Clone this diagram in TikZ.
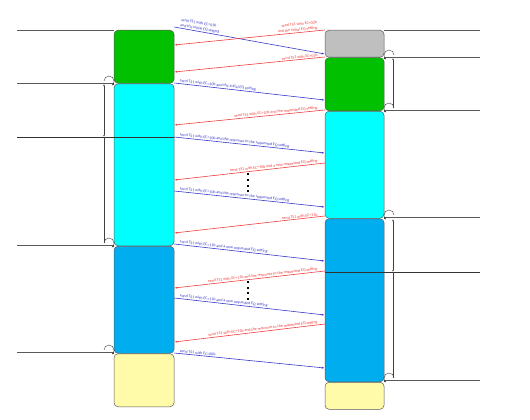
\documentclass[tikz,border=0pt]{standalone}
\usepackage{fontspec}
\setmainfont{Carlito}
\usetikzlibrary{arrows.meta}
\definecolor{eqgray}{HTML}{BFBFBF}
\definecolor{eqgreen}{HTML}{00C000}
\definecolor{eqcyan}{HTML}{00FFFF}
\definecolor{eqblue}{HTML}{00AEEF}
\definecolor{eqyellow}{HTML}{FFFBA8}
\definecolor{msgblue}{HTML}{3838C8}
\definecolor{msgred}{HTML}{F23C3C}

\begin{document}
\begin{tikzpicture}[
        x=1pt, y=-1pt,
        phase/.style={
          draw=black!65,
          rounded corners=4pt,
          inner sep=0pt,
          anchor=north,
          line width=0.5pt
        },
        dspbox/.style={phase, minimum width=60pt},
        uspbox/.style={phase, minimum width=59pt},
        tolr/.style={
          -{Latex[length=3pt,width=2pt]},
          msgblue,
          line width=0.6pt
        },
        torl/.style={
          -{Latex[length=3pt,width=2pt]},
          msgred,
          line width=0.6pt
        },
        lrtxt/.style={
          font=\fontsize{4}{5.4}\selectfont,
          text=msgblue,
          sloped,
          anchor=south west,
          align=left,
          inner sep=0.7pt,
          pos=0.03
        },
        rltxt/.style={
          font=\fontsize{4}{5.4}\selectfont,
          text=msgred,
          sloped,
          anchor=south east,
          align=right,
          inner sep=0.7pt,
          pos=0.04
        },
        level/.style={gray!70!black, line width=0.8pt},
        timer/.style={black!75, line width=0.5pt},
        loopar/.style={
          -{Latex[length=2.5pt,width=2pt]},
          black!75,
          line width=0.4pt
        }
      ]

      \useasboundingbox (0,0) rectangle (530,420);

      % downstream port (left)
      \node[dspbox, fill=eqgreen, minimum height=53pt] (dsp1) at (144,30) {};
      \node[dspbox, fill=eqcyan, minimum height=162pt] (dsp2) at (dsp1.south) {};
      \node[dspbox, fill=eqblue, minimum height=107pt] (dsp3) at (dsp2.south) {};
      \node[dspbox, fill=eqyellow, minimum height=53pt] (dsp0) at (dsp3.south) {};

      % upstream port (right)
      \node[uspbox, fill=eqgray, minimum height=27pt] (usp0) at (354.5,30) {};
      \node[uspbox, fill=eqgreen, minimum height=53pt] (usp1) at (usp0.south) {};
      \node[uspbox, fill=eqcyan, minimum height=107pt] (usp2) at (usp1.south) {};
      \node[uspbox, fill=eqblue, minimum height=163pt] (usp3) at (usp2.south) {};
      \node[uspbox, fill=eqyellow, minimum height=27pt] (uspE) at (usp3.south) {};

      % level lines
      \foreach \y in {30,83,245,352}
        \draw[level] (17,\y) -- (dsp1.west |- 0,\y);
      \draw[level, black!80] (17,137) -- (dsp2.east |- 0,137);
      \foreach \y in {30,57,110,217,380}
        \draw[level] (usp0.east |- 0,\y) -- (480,\y);
      \draw[level, black!80] (usp3.west |- 0,272) -- (480,272);

      % timers
      \draw[timer, {Latex[length=2pt,width=1.6pt]}-{Latex[length=2pt,width=1.6pt]}] (104,84) -- (104,137);
      \draw[timer] (104,137) -- (104,243);
      \draw[timer, {Latex[length=2pt,width=1.6pt]}-] (393,58) -- (393,108);
      \draw[timer, {Latex[length=2pt,width=1.6pt]}-{Latex[length=2pt,width=1.6pt]}] (393,219) -- (393,272);
      \draw[timer] (393,272) -- (393,378);

      % phase changes
      \foreach \y in {83,245,352}
        \draw[loopar] (104,\y-2) arc (180:420:5);
      \foreach \y in {57,110,217,380}
        \draw[loopar] (394,\y-2) arc (0:-240:5);

      % TS1 exchange
      \draw[tolr] (dsp1.east |- 0,27) -- (usp0.west |- 0,54)
        node[lrtxt] {send TS1 with EC=01b\\and the initial EQ setting};
      \draw[torl] (usp0.west |- 0,30) -- (dsp1.east |- 0,45)
        node[rltxt] {send TS1 with EC=00b\\and the initial EQ setting};
      \draw[torl] (usp1.west |- 0,57) -- (dsp1.east |- 0,72)
        node[rltxt] {send TS1 with EC=01b};
      \draw[tolr] (dsp2.east |- 0,83) -- (usp1.west |- 0,100)
        node[lrtxt] {send TS1 with EC=10b and the initial EQ setting};
      \draw[torl] (usp2.west |- 0,110) -- (dsp2.east |- 0,125)
        node[rltxt] {send TS1 with EC=10b and the requested EQ setting};
      \draw[tolr] (dsp2.east |- 0,137) -- (usp2.west |- 0,153)
        node[lrtxt] {send TS1 with EC=10b and the response to the requested EQ setting};
      \draw[torl] (usp2.west |- 0,163) -- (dsp2.east |- 0,180)
        node[rltxt] {send TS1 with EC=10b and a new requested EQ setting};
      \draw[tolr] (dsp2.east |- 0,191) -- (usp2.west |- 0,207)
        node[lrtxt] {send TS1 with EC=10b and the response to the requested EQ setting};
      \draw[torl] (usp3.west |- 0,216) -- (dsp2.east |- 0,233)
        node[rltxt] {send TS1 with EC=11b};
      \draw[tolr] (dsp3.east |- 0,244) -- (usp3.west |- 0,261)
        node[lrtxt] {send TS1 with EC=11b and a new requested EQ setting};
      \draw[torl] (usp3.west |- 0,271) -- (dsp3.east |- 0,288)
        node[rltxt] {send TS1 with EC=11b and the response to the requested EQ setting};
      \draw[tolr] (dsp3.east |- 0,298) -- (usp3.west |- 0,315)
        node[lrtxt] {send TS1 with EC=11b and a new requested EQ setting};
      \draw[torl] (usp3.west |- 0,324) -- (dsp3.east |- 0,342)
        node[rltxt] {send TS1 with EC=11b and the response to the requested EQ setting};
      \draw[tolr] (dsp0.east |- 0,353) -- (usp3.west |- 0,368)
        node[lrtxt] {send TS1 with EC=00b};

      % repeated exchanges
      \foreach \y in {174,180,186,191,282,288,293,299}
        \fill (247,\y-1.2) rectangle ++(2.4,2.4);

      \end{tikzpicture}
\end{document}
